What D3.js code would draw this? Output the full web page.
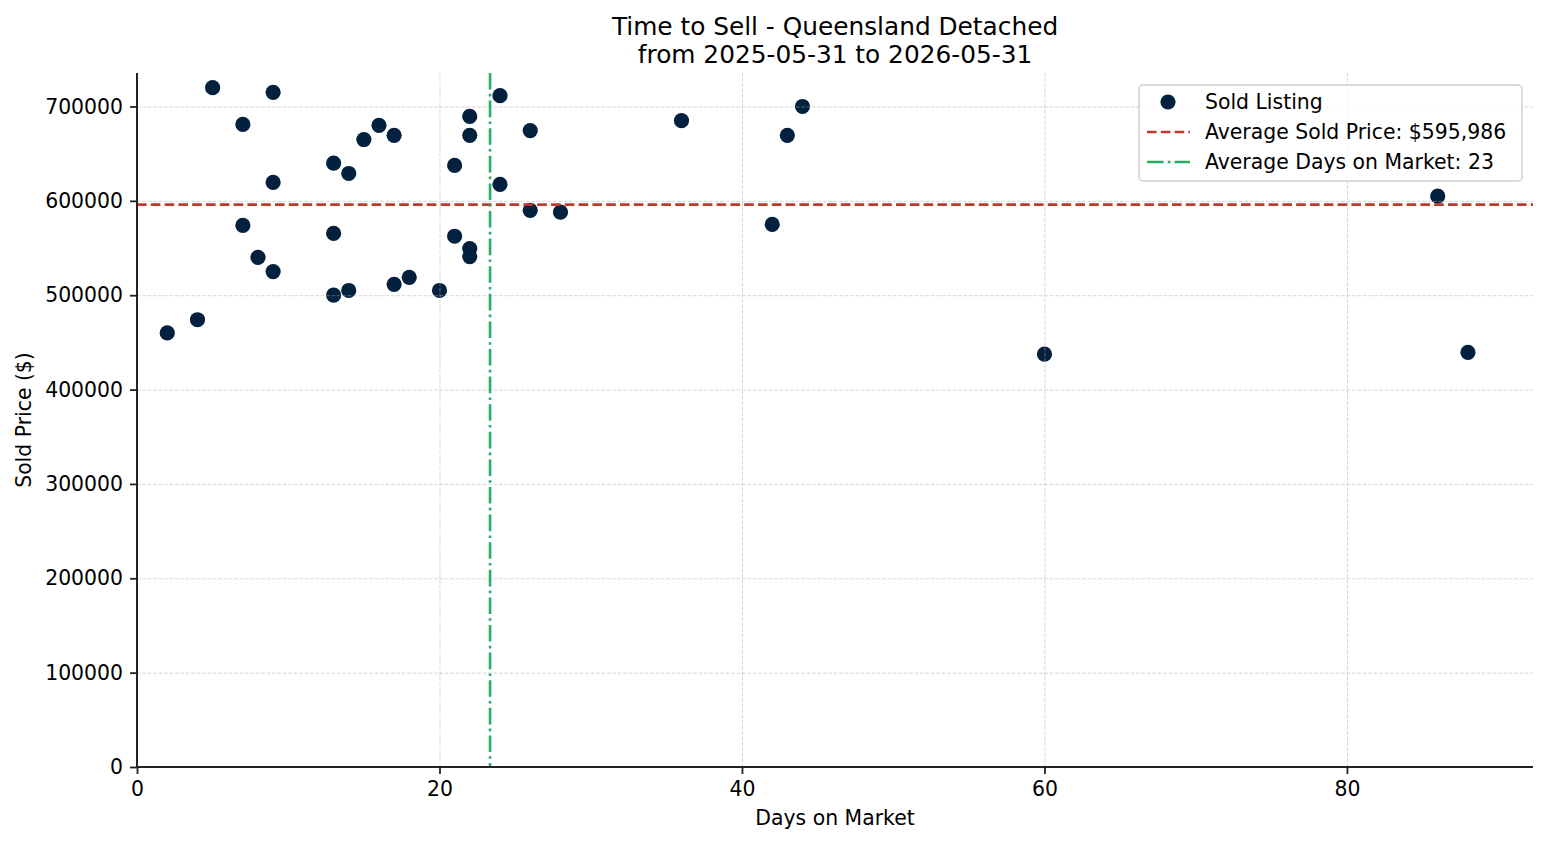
<!DOCTYPE html>
<html lang="en">
<head>
    <meta charset="UTF-8">
    <title>Time to Sell - Queensland Detached</title>
    <script src="https://d3js.org/d3.v7.min.js"></script>
    <style>
        body {
            margin: 0;
            background: #fff;
            font-family: "DejaVu Sans", sans-serif;
        }
        text { fill: #000; }
        .tick text { font-size: 20.4px; font-family: "DejaVu Sans", sans-serif; }
        .tick line { stroke: #222; stroke-width: 1.8; }
        .domain { display: none; }
        .grid line { stroke: #b0b0b0; stroke-opacity: 0.5; stroke-width: 1; stroke-dasharray: 3.8,1.6; }
    </style>
</head>
<body>
<div id="chart"></div>
<script>
    // data
    var titleLines = ["Time to Sell - Queensland Detached", "from 2025-05-31 to 2026-05-31"];
    var daysOnMarket = [2, 4, 5, 7, 7, 8, 9, 9, 9, 13, 13, 13, 14, 14, 15, 16, 17, 17, 18, 20,
                        21, 21, 22, 22, 22, 22, 24, 24, 26, 26, 28, 36, 42, 43, 44, 60, 86, 88];
    var soldPrice = [460000, 474000, 720000, 681000, 574000, 540000, 715000, 619500, 525000, 640000,
                     565500, 500000, 629000, 505000, 665000, 680000, 669500, 511500, 519000, 505000,
                     637500, 562500, 689500, 669500, 549500, 541000, 711500, 617500, 674500, 590000,
                     588000, 685000, 575000, 669500, 700000, 437500, 605000, 439500];
    var avgPrice = 595986;
    var xTicks = [0, 20, 40, 60, 80];
    var yTicks = [0, 100000, 200000, 300000, 400000, 500000, 600000, 700000];
    var legendLabels = ["Sold Listing", "Average Sold Price: $595,986", "Average Days on Market: 23"];

    var W = 1547, H = 845;
    var mLeft = 137, mRight = 1533, mTop = 73, mBottom = 767;

    var points = daysOnMarket.map(function(d, i) { return {days: d, price: soldPrice[i]}; });
    var avgDays = d3.mean(daysOnMarket);

    var svg = d3.select("#chart").append("svg")
        .attr("width", W)
        .attr("height", H);

    var x = d3.scaleLinear().domain([0, 92.3]).range([mLeft, mRight]);
    var y = d3.scaleLinear().domain([0, 735500]).range([mBottom, mTop]);

    // scatter (sits under the grid like matplotlib)
    svg.append("g").selectAll("circle")
        .data(points)
        .enter().append("circle")
        .attr("cx", function(d) { return x(d.days); })
        .attr("cy", function(d) { return y(d.price); })
        .attr("r", 7.6)
        .attr("fill", "#03203f");

    // grid
    svg.append("g")
        .attr("class", "grid")
        .attr("transform", "translate(0," + mBottom + ")")
        .call(d3.axisBottom(x).tickValues(xTicks).tickSize(-(mBottom - mTop)).tickFormat(""));
    svg.append("g")
        .attr("class", "grid")
        .attr("transform", "translate(" + mLeft + ",0)")
        .call(d3.axisLeft(y).tickValues(yTicks).tickSize(-(mRight - mLeft)).tickFormat(""));

    // average lines
    svg.append("line")
        .attr("x1", mLeft).attr("x2", mRight)
        .attr("y1", y(avgPrice)).attr("y2", y(avgPrice))
        .attr("stroke", "#c0392b")
        .attr("stroke-width", 2.6)
        .attr("stroke-dasharray", "9.6,4.2");
    svg.append("line")
        .attr("x1", x(avgDays)).attr("x2", x(avgDays))
        .attr("y1", mTop).attr("y2", mBottom)
        .attr("stroke", "#27ae60")
        .attr("stroke-width", 2.6)
        .attr("stroke-dasharray", "16.6,4.2,2.6,4.2");

    // axes
    svg.append("g")
        .attr("transform", "translate(0," + mBottom + ")")
        .call(d3.axisBottom(x).tickValues(xTicks).tickSize(7).tickPadding(8).tickFormat(d3.format("d")));
    svg.append("g")
        .attr("transform", "translate(" + mLeft + ",0)")
        .call(d3.axisLeft(y).tickValues(yTicks).tickSize(7).tickPadding(7).tickFormat(d3.format("d")));

    // spines
    svg.append("line")
        .attr("x1", mLeft).attr("x2", mLeft).attr("y1", mTop).attr("y2", mBottom + 1)
        .attr("stroke", "#222").attr("stroke-width", 2);
    svg.append("line")
        .attr("x1", mLeft - 1).attr("x2", mRight).attr("y1", mBottom).attr("y2", mBottom)
        .attr("stroke", "#222").attr("stroke-width", 2);

    // title
    svg.append("g").selectAll("text")
        .data(titleLines)
        .enter().append("text")
        .attr("x", (mLeft + mRight) / 2)
        .attr("y", function(d, i) { return 35 + i * 28; })
        .attr("text-anchor", "middle")
        .style("font-size", "24.8px")
        .text(function(d) { return d; });

    // axis labels
    svg.append("text")
        .attr("x", (mLeft + mRight) / 2)
        .attr("y", 825)
        .attr("text-anchor", "middle")
        .style("font-size", "20.4px")
        .text("Days on Market");
    svg.append("text")
        .attr("transform", "translate(31," + ((mTop + mBottom) / 2) + ") rotate(-90)")
        .attr("text-anchor", "middle")
        .style("font-size", "20.4px")
        .text("Sold Price ($)");

    // legend
    var lg = svg.append("g").attr("transform", "translate(1139,85)");
    lg.append("rect")
        .attr("width", 383).attr("height", 96).attr("rx", 4)
        .attr("fill", "#fff").attr("fill-opacity", 0.8)
        .attr("stroke", "#d0d0d0").attr("stroke-width", 1.5);
    var rowY = [17, 47, 77];
    lg.append("circle")
        .attr("cx", 29).attr("cy", rowY[0]).attr("r", 7.6)
        .attr("fill", "#03203f");
    lg.append("line")
        .attr("x1", 8).attr("x2", 51).attr("y1", rowY[1]).attr("y2", rowY[1])
        .attr("stroke", "#c0392b").attr("stroke-width", 2.6)
        .attr("stroke-dasharray", "9.6,4.2");
    lg.append("line")
        .attr("x1", 8).attr("x2", 51).attr("y1", rowY[2]).attr("y2", rowY[2])
        .attr("stroke", "#27ae60").attr("stroke-width", 2.6)
        .attr("stroke-dasharray", "16.6,4.2,2.6,4.2");
    lg.selectAll("text.lbl")
        .data(legendLabels)
        .enter().append("text")
        .attr("class", "lbl")
        .attr("x", 66)
        .attr("y", function(d, i) { return rowY[i]; })
        .attr("dy", "0.36em")
        .style("font-size", "20.4px")
        .text(function(d) { return d; });
</script>
</body>
</html>
